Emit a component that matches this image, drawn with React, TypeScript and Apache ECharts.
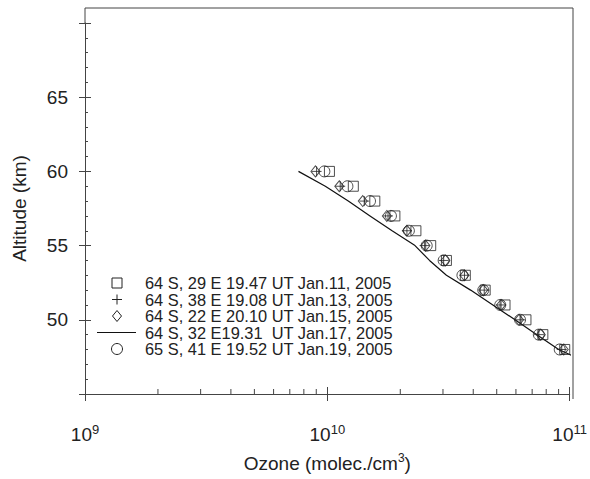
import React, { useEffect, useRef } from 'react';
import * as echarts from 'echarts';

// Altitudes (km) of the measured points
const altitudes = [60, 59, 58, 57, 56, 55, 54, 53, 52, 51, 50, 49, 48];

// Ozone number density (molec./cm3) per profile
const jan11Square = [1.02e10, 1.28e10, 1.57e10, 1.9e10, 2.32e10, 2.67e10, 3.1e10, 3.71e10, 4.48e10, 5.41e10, 6.6e10, 7.75e10, 9.54e10];
const jan13Plus = [9.03e9, 1.13e10, 1.42e10, 1.78e10, 2.13e10, 2.52e10, 3.02e10, 3.68e10, 4.44e10, 5.21e10, 6.24e10, 7.46e10, 9.27e10];
const jan15Diamond = [8.93e9, 1.12e10, 1.4e10, 1.76e10, 2.13e10, 2.54e10, 3.07e10, 3.68e10, 4.4e10, 5.21e10, 6.18e10, 7.6e10, 9.45e10];
const jan19Circle = [9.72e9, 1.21e10, 1.5e10, 1.83e10, 2.17e10, 2.57e10, 3.02e10, 3.61e10, 4.4e10, 5.17e10, 6.24e10, 7.46e10, 9.1e10];

// Jan.17 profile drawn as a line
const lineAltitudes = [60, 59, 58, 57, 56, 55, 54, 53, 52, 51, 50, 49, 48, 47.6];
const jan17Line = [7.6e9, 9.81e9, 1.22e10, 1.5e10, 1.85e10, 2.3e10, 2.64e10, 3.1e10, 3.9e10, 4.82e10, 5.95e10, 7.32e10, 9.01e10, 1.02e11];

const seriesNames = [
  '64 S, 29 E 19.47 UT Jan.11, 2005',
  '64 S, 38 E 19.08 UT Jan.13, 2005',
  '64 S, 22 E 20.10 UT Jan.15, 2005',
  '64 S, 32 E19.31  UT Jan.17, 2005',
  '65 S, 41 E 19.52 UT Jan.19, 2005',
];

const xDecades = [1e9, 1e10, 1e11];
const minorMultipliers = [2, 3, 4, 5, 6, 7, 8, 9];
const yTickLabels = [50, 55, 60, 65];

export default function App() {
  const ref = useRef<HTMLDivElement>(null);

  useEffect(() => {
    const chart = echarts.init(ref.current as HTMLDivElement, null, { renderer: 'svg' });
    const font = '"Liberation Sans", Arial, Helvetica, sans-serif';
    const ink = '#222';
    const axisInk = '#444';
    const pair = (vals: number[], alts: number[]) => vals.map((v, i) => [v, alts[i]]);

    const minorTicks: number[][] = [];
    xDecades.slice(0, -1).forEach((d) => minorMultipliers.forEach((m) => minorTicks.push([d * m, 45])));

    const symStyle = { color: 'transparent', borderColor: ink, borderWidth: 1 };

    // legend layout
    const legX = 117;
    const legRows = [283, 299.5, 316, 332.5, 349];
    const legTextX = 145;
    const legendGraphics: any[] = [
      { type: 'rect', shape: { x: legX - 5, y: legRows[0] - 5, width: 10, height: 10 }, style: { fill: 'none', stroke: ink, lineWidth: 1 } },
      { type: 'line', shape: { x1: legX - 5, y1: legRows[1], x2: legX + 5, y2: legRows[1] }, style: { stroke: ink, lineWidth: 1 } },
      { type: 'line', shape: { x1: legX, y1: legRows[1] - 5, x2: legX, y2: legRows[1] + 5 }, style: { stroke: ink, lineWidth: 1 } },
      { type: 'polygon', shape: { points: [[legX, legRows[2] - 5.5], [legX + 4.5, legRows[2]], [legX, legRows[2] + 5.5], [legX - 4.5, legRows[2]]] }, style: { fill: 'none', stroke: ink, lineWidth: 1 } },
      { type: 'line', shape: { x1: 97, y1: legRows[3], x2: 136, y2: legRows[3] }, style: { stroke: '#111', lineWidth: 1.2 } },
      { type: 'circle', shape: { cx: legX, cy: legRows[4], r: 5.5 }, style: { fill: 'none', stroke: ink, lineWidth: 1 } },
      ...seriesNames.map((n, i) => ({
        type: 'text',
        x: legTextX,
        y: legRows[i],
        style: {
          text: n,
          fontSize: 16.4,
          fontFamily: font,
          lineHeight: 16,
          fill: ink,
          verticalAlign: 'middle',
        },
      })),
    ];

    const frame: any[] = [
      { type: 'line', shape: { x1: 85, y1: 8, x2: 573, y2: 8 }, style: { stroke: axisInk, lineWidth: 1 } },
      { type: 'line', shape: { x1: 85, y1: 8, x2: 85, y2: 23 }, style: { stroke: axisInk, lineWidth: 1 } },
      { type: 'line', shape: { x1: 573, y1: 8, x2: 573, y2: 399 }, style: { stroke: axisInk, lineWidth: 1 } },
    ];

    const xCommon = {
      type: 'log',
      logBase: 10,
      min: 1e9,
      max: 1e11,
      splitLine: { show: false },
      minorTick: { show: false },
    };
    const yCommon = {
      type: 'value',
      min: 45,
      max: 70,
      interval: 5,
      position: 'left',
      splitLine: { show: false },
    };

    chart.setOption({
      animation: false,
      backgroundColor: '#fff',
      textStyle: { fontFamily: font },
      grid: { left: 85, right: 17, top: 23, bottom: 80 },
      xAxis: [
        {
          ...xCommon,
          position: 'bottom',
          name: 'Ozone (molec./cm{sup|3})',
          nameLocation: 'middle',
          nameGap: 58,
          nameTextStyle: {
            fontSize: 19,
            color: ink,
            fontFamily: font,
            lineHeight: 22,
            rich: { sup: { fontSize: 12, lineHeight: 12, verticalAlign: 'top', color: ink, fontFamily: font } },
          },
          axisLine: { show: true, lineStyle: { color: axisInk, width: 1 } },
          axisTick: { show: true, inside: false, length: 7, lineStyle: { color: axisInk } },
          axisLabel: {
            margin: 29,
            fontSize: 19,
            color: ink,
            fontFamily: font,
            lineHeight: 22,
            formatter: (v: number) => `10{sup|${Math.round(Math.log10(v))}}`,
            rich: { sup: { fontSize: 13, lineHeight: 13, verticalAlign: 'top', color: ink, fontFamily: font } },
          },
        },
        {
          ...xCommon,
          position: 'bottom',
          axisLine: { show: false },
          axisTick: { show: true, inside: true, length: 7, lineStyle: { color: axisInk } },
          axisLabel: { show: false },
        },
      ],
      yAxis: [
        {
          ...yCommon,
          name: 'Altitude (km)',
          nameLocation: 'middle',
          nameGap: 56,
          nameTextStyle: { fontSize: 19, color: ink, fontFamily: font },
          axisLine: { show: true, lineStyle: { color: axisInk, width: 1 } },
          axisTick: { show: true, inside: false, length: 6, lineStyle: { color: axisInk } },
          axisLabel: {
            margin: 17,
            fontSize: 19,
            color: ink,
            fontFamily: font,
            formatter: (v: number) => (yTickLabels.includes(v) ? String(v) : ''),
          },
        },
        {
          ...yCommon,
          axisLine: { show: false },
          axisTick: { show: true, inside: true, length: 6, lineStyle: { color: axisInk } },
          minorTick: { show: true, splitNumber: 5, length: 3, lineStyle: { color: axisInk } },
          axisLabel: { show: false },
        },
      ],
      graphic: [...frame, ...legendGraphics],
      series: [
        {
          name: seriesNames[3],
          type: 'line',
          data: pair(jan17Line, lineAltitudes),
          showSymbol: false,
          symbol: 'none',
          lineStyle: { color: '#111', width: 1.2 },
          z: 1,
        },
        {
          name: seriesNames[0],
          type: 'scatter',
          data: pair(jan11Square, altitudes),
          symbol: 'rect',
          symbolSize: 10,
          itemStyle: symStyle,
          z: 2,
        },
        {
          name: seriesNames[1],
          type: 'scatter',
          data: pair(jan13Plus, altitudes),
          symbol: 'path://M5,0L5,10M0,5L10,5',
          symbolSize: 10,
          itemStyle: { color: 'none', borderColor: ink, borderWidth: 1 },
          z: 2,
        },
        {
          name: seriesNames[2],
          type: 'scatter',
          data: pair(jan15Diamond, altitudes),
          symbol: 'diamond',
          symbolSize: [9, 11],
          itemStyle: symStyle,
          z: 2,
        },
        {
          name: seriesNames[4],
          type: 'scatter',
          data: pair(jan19Circle, altitudes),
          symbol: 'circle',
          symbolSize: 11,
          itemStyle: symStyle,
          z: 2,
        },
        {
          type: 'custom',
          data: minorTicks,
          silent: true,
          clip: false,
          renderItem: (params: any, api: any) => {
            const p = api.coord([api.value(0), api.value(1)]);
            return {
              type: 'line',
              shape: { x1: p[0], y1: p[1], x2: p[0], y2: p[1] - 5 },
              style: { stroke: axisInk, lineWidth: 1 },
            };
          },
          z: 3,
        },
      ],
    });

    return () => chart.dispose();
  }, []);

  return <div ref={ref} style={{ position: 'fixed', left: 0, top: 0, width: 590, height: 479 }} />;
}
